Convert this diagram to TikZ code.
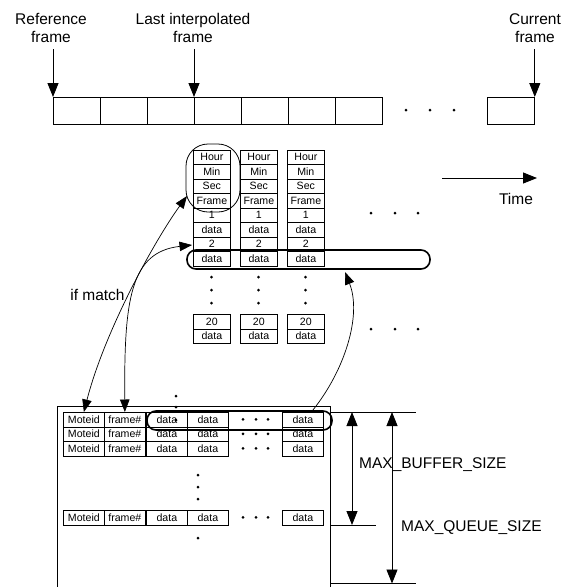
\documentclass[tikz,border=0pt]{standalone}
\usepackage{fontspec}
\setmainfont{Liberation Sans}
\usetikzlibrary{arrows.meta}
\begin{document}
\begin{tikzpicture}[x=1pt,y=-1pt,
  lbl/.style={font=\fontsize{15.5}{18.5}\selectfont, inner sep=0pt, align=center},
  cell/.style={draw, line width=0.7pt, font=\fontsize{10.6}{11}\selectfont, inner sep=0pt,
    minimum height=14.5pt, minimum width=37pt, anchor=north west},
  qcell/.style={cell, minimum width=41pt},
  fcell/.style={draw, line width=0.8pt, inner sep=0pt, minimum height=27pt, minimum width=47pt, anchor=north west},
  bigarrow/.style={line width=0.8pt, -{Triangle[length=14pt,width=11pt]}},
  bigdouble/.style={line width=0.8pt, {Triangle[length=14pt,width=11pt]}-{Triangle[length=14pt,width=11pt]}},
  curvearrow/.style={line width=0.7pt, -{Triangle[length=12.5pt,width=9.5pt]}},
  curvedouble/.style={line width=0.7pt, {Triangle[length=12.5pt,width=9.5pt]}-{Triangle[length=12.5pt,width=9.5pt]}},
  thinoval/.style={draw, line width=0.8pt, inner sep=0pt},
  thickoval/.style={draw, line width=1.6pt, inner sep=0pt, rounded corners=9pt},
  dotmark/.style={fill=black}
]
\useasboundingbox (0,0) rectangle (567,587);

% ---- top labels
\node[lbl] (ref) at (51,28) {Reference\\frame};
\node[lbl] (last) at (193,28) {Last interpolated\\frame};
\node[lbl] (cur) at (535,28) {Current\\frame};

% ---- frame strip
\foreach \i in {1,...,7} {
  \node[fcell] (f\i) at ({53+47*(\i-1)},97) {};
}
\node[fcell] (flast) at (487,97) {};
\foreach \x in {406,430,454} \fill[dotmark] (\x,110) circle (1.5pt);

\coordinate (refa) at (f1.north west |- 0,49);
\coordinate (lasta) at (f4.north west |- 0,49);
\coordinate (cura) at (flast.north east |- 0,49);
\draw[bigarrow] (refa) -- (f1.north west);
\draw[bigarrow] (lasta) -- (f4.north west);
\draw[bigarrow] (cura) -- (flast.north east);

% ---- time arrow
\coordinate (t0) at (442,178);
\coordinate (t1) at (537,178);
\draw[bigarrow] (t0) -- (t1);
\node[lbl] (time) at (516,199) {Time};

% ---- frame tables
\foreach \c/\x in {1/193,2/240,3/287} {
  \foreach \t [count=\r from 0] in {Hour,Min,Sec,Frame,1,data,2,data} {
    \node[cell] (t\c-\r) at (\x,{149.5+14.5*\r}) {\t};
  }
  \node[cell] (t\c-20) at (\x,314) {20};
  \node[cell] (t\c-20d) at (\x,328.5) {data};
  \foreach \y in {277,290,303} \fill[dotmark] ({\x+18.5},\y) circle (1.5pt);
}
\foreach \x in {371,395,418} {
  \fill[dotmark] (\x,213) circle (1.5pt);
  \fill[dotmark] (\x,329) circle (1.5pt);
}

% ovals on tables
\node[thinoval, rounded corners=22pt, minimum width=54pt, minimum height=68pt] (ov1) at (213,178) {};
\node[thickoval, minimum width=243pt, minimum height=19pt] (ov2) at (308.5,259.5) {};

% ---- queue
\draw[line width=0.8pt] (57,590) |- (330,406) -- (330,590);
\foreach \row/\y in {1/412,2/426.5,3/441,4/510} {
  \node[qcell] (q\row-1) at (63,\y) {Moteid};
  \node[qcell] (q\row-2) at (104,\y) {frame\#};
  \node[qcell] (q\row-3) at (146,\y) {data};
  \node[qcell] (q\row-4) at (187,\y) {data};
  \node[qcell] (q\row-5) at (282,\y) {data};
  \foreach \x in {243,256,268} \fill[dotmark] (\x,{\y+7.25}) circle (1.5pt);
}
\foreach \y in {396,407,420} \fill[dotmark] (176,\y) circle (1.5pt);
\foreach \y in {475,487,499,538} \fill[dotmark] (198,\y) circle (1.5pt);

\node[thickoval, minimum width=185pt, minimum height=19pt] (qov) at (239.5,420.5) {};

% ---- size markers
\coordinate (mtopL) at (330,412);
\coordinate (mtopR) at (416,412);
\coordinate (mbufL) at (330,525);
\coordinate (mbufR) at (376,525);
\coordinate (mqL) at (330,583.5);
\coordinate (mqR) at (416,583.5);
\draw[line width=0.7pt] (mtopL) -- (mtopR);
\draw[line width=0.7pt] (mbufL) -- (mbufR);
\draw[line width=0.7pt] (mqL) -- (mqR);
\coordinate (bufT) at (352,412);
\coordinate (bufB) at (352,525);
\coordinate (qT) at (392,412);
\coordinate (qB) at (392,583.5);
\draw[bigdouble] (bufT) -- (bufB);
\draw[bigdouble] (qT) -- (qB);
\node[lbl, anchor=west] (mbuf) at (359,465) {MAX\_BUFFER\_SIZE};
\node[lbl, anchor=west] (mq) at (401,528) {MAX\_QUEUE\_SIZE};

% ---- curved connectors
\coordinate (tip1) at (187,196);
\coordinate (tip2) at (192,245);
\coordinate (tip3) at (345,272);
\coordinate (start3) at ([xshift=-20pt]qov.north east);
\draw[curvedouble] (q1-1.north) .. controls (105,330) and (155,240) .. (tip1);
\draw[curvedouble] (q1-2.north) .. controls (124,300) and (130,252) .. (tip2);
\draw[curvearrow] (start3) .. controls (345,370) and (362,315) .. (tip3);
\node[lbl] (ifm) at (97.5,295) {if match};

\end{tikzpicture}
\end{document}
